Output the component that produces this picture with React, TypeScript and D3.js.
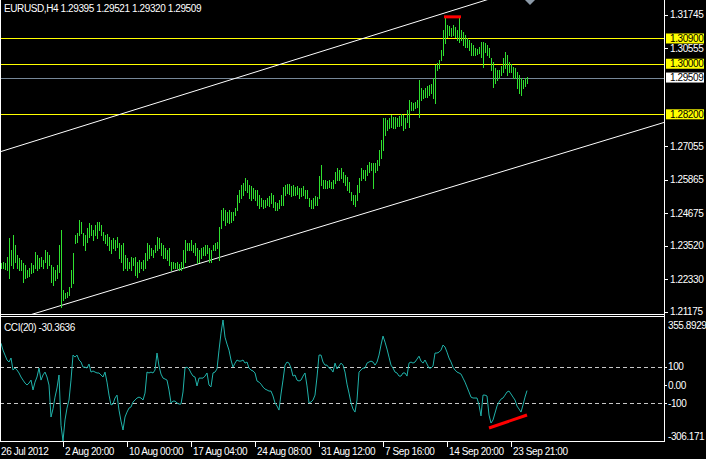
import React from "react";
import * as d3 from "d3";

const W = 706;
const H = 459;

const highs = [
  1.2290,1.2294,1.2290,1.2312,1.2380,1.2337,1.2390,1.2355,1.2319,1.2308,
  1.2301,1.2290,1.2284,1.2266,1.2273,1.2290,1.2284,1.2330,1.2319,1.2308,
  1.2312,1.2301,1.2337,1.2330,1.2319,1.2284,1.2277,1.2266,1.2284,1.2355,
  1.2408,1.2195,1.2184,1.2188,1.2205,1.2266,1.2326,1.2390,1.2397,1.2444,
  1.2437,1.2397,1.2390,1.2415,1.2433,1.2426,1.2408,1.2426,1.2437,1.2437,
  1.2426,1.2401,1.2390,1.2394,1.2383,1.2373,1.2380,1.2373,1.2383,1.2362,
  1.2355,1.2362,1.2319,1.2308,1.2294,1.2312,1.2308,1.2312,1.2294,1.2301,
  1.2294,1.2301,1.2326,1.2362,1.2355,1.2344,1.2337,1.2355,1.2383,1.2380,
  1.2362,1.2355,1.2344,1.2337,1.2344,1.2294,1.2294,1.2290,1.2294,1.2287,
  1.2294,1.2337,1.2373,1.2362,1.2362,1.2373,1.2355,1.2362,1.2344,1.2337,
  1.2344,1.2348,1.2355,1.2355,1.2344,1.2337,1.2355,1.2362,1.2366,1.2419,
  1.2479,1.2487,1.2479,1.2472,1.2479,1.2472,1.2472,1.2487,1.2533,1.2551,
  1.2568,1.2575,1.2593,1.2586,1.2568,1.2565,1.2558,1.2551,1.2551,1.2533,
  1.2522,1.2515,1.2515,1.2522,1.2529,1.2540,1.2533,1.2508,1.2504,1.2515,
  1.2533,1.2561,1.2568,1.2572,1.2572,1.2565,1.2568,1.2561,1.2565,1.2558,
  1.2558,1.2565,1.2551,1.2551,1.2522,1.2515,1.2522,1.2529,1.2526,1.2600,
  1.2640,1.2586,1.2586,1.2583,1.2586,1.2579,1.2586,1.2615,1.2629,1.2622,
  1.2629,1.2615,1.2604,1.2597,1.2579,1.2544,1.2533,1.2533,1.2568,1.2593,
  1.2629,1.2622,1.2622,1.2640,1.2650,1.2647,1.2647,1.2647,1.2657,1.2693,
  1.2729,1.2807,1.2807,1.2800,1.2807,1.2818,1.2811,1.2811,1.2807,1.2814,
  1.2821,1.2818,1.2807,1.2835,1.2871,1.2864,1.2860,1.2864,1.2871,1.2942,
  1.2914,1.2907,1.2914,1.2921,1.2924,1.2928,1.2949,1.2996,1.3003,1.3013,
  1.3049,1.3120,1.3167,1.3138,1.3134,1.3127,1.3138,1.3131,1.3120,1.3167,
  1.3120,1.3113,1.3102,1.3092,1.3085,1.3074,1.3067,1.3056,1.3053,1.3060,
  1.3078,1.3078,1.3074,1.3067,1.3056,1.3020,1.3006,1.2985,1.2978,1.2978,
  1.2992,1.3020,1.3042,1.3031,1.3006,1.2999,1.2988,1.2985,1.2971,1.2960,
  1.2949,1.2942,1.2949,1.29521,
];

const lows = [
  1.2273,1.2273,1.2269,1.2266,1.2238,1.2284,1.2273,1.2294,1.2273,1.2266,
  1.2266,1.2223,1.2238,1.2241,1.2245,1.2255,1.2259,1.2273,1.2266,1.2273,
  1.2280,1.2273,1.2294,1.2273,1.2284,1.2223,1.2212,1.2230,1.2238,1.2259,
  1.2134,1.2159,1.2166,1.2170,1.2177,1.2205,1.2219,1.2362,1.2366,1.2390,
  1.2397,1.2355,1.2337,1.2366,1.2383,1.2390,1.2373,1.2390,1.2380,1.2408,
  1.2390,1.2373,1.2362,1.2355,1.2337,1.2326,1.2344,1.2337,1.2348,1.2308,
  1.2294,1.2266,1.2273,1.2266,1.2273,1.2266,1.2284,1.2248,1.2241,1.2259,
  1.2273,1.2266,1.2273,1.2301,1.2308,1.2319,1.2312,1.2330,1.2337,1.2344,
  1.2319,1.2308,1.2308,1.2301,1.2284,1.2266,1.2273,1.2273,1.2273,1.2266,
  1.2266,1.2273,1.2294,1.2337,1.2337,1.2337,1.2330,1.2319,1.2290,1.2294,
  1.2308,1.2319,1.2319,1.2326,1.2294,1.2294,1.2337,1.2337,1.2344,1.2301,
  1.2415,1.2444,1.2426,1.2437,1.2433,1.2437,1.2444,1.2462,1.2479,1.2508,
  1.2522,1.2533,1.2551,1.2544,1.2522,1.2515,1.2522,1.2515,1.2497,1.2487,
  1.2494,1.2487,1.2490,1.2497,1.2494,1.2504,1.2490,1.2479,1.2479,1.2487,
  1.2497,1.2497,1.2533,1.2540,1.2536,1.2529,1.2533,1.2533,1.2536,1.2522,
  1.2529,1.2533,1.2522,1.2522,1.2494,1.2487,1.2487,1.2497,1.2497,1.2522,
  1.2568,1.2558,1.2558,1.2558,1.2561,1.2558,1.2558,1.2575,1.2586,1.2586,
  1.2593,1.2579,1.2568,1.2551,1.2544,1.2515,1.2501,1.2494,1.2515,1.2544,
  1.2586,1.2593,1.2586,1.2604,1.2615,1.2622,1.2558,1.2615,1.2622,1.2640,
  1.2665,1.2693,1.2746,1.2764,1.2771,1.2775,1.2771,1.2771,1.2778,1.2778,
  1.2782,1.2764,1.2771,1.2793,1.2775,1.2835,1.2835,1.2843,1.2846,1.2811,
  1.2871,1.2878,1.2882,1.2882,1.2889,1.2896,1.2878,1.2860,1.2978,1.2985,
  1.3013,1.3031,1.3074,1.3095,1.3102,1.3099,1.3102,1.3095,1.3085,1.3078,
  1.3085,1.3067,1.3060,1.3060,1.3049,1.3031,1.3031,1.3031,1.3035,1.3038,
  1.3024,1.2988,1.3042,1.3031,1.3024,1.2978,1.2917,1.2931,1.2942,1.2949,
  1.2960,1.2971,1.2985,1.2960,1.2971,1.2971,1.2949,1.2949,1.2914,1.2896,
  1.2889,1.2914,1.2921,1.29320,
];

const cci = [
  229,191,164,137,126,148,82,93,82,66,
  44,27,11,0,11,27,-27,16,44,93,
  27,55,71,44,0,-175,-130,-66,-16,55,
  -220,-306.171,-191,-126,-82,27,164,153,164,137,
  126,98,98,93,115,71,77,71,66,66,
  55,44,71,16,-55,-109,-104,-71,-55,-137,
  -197,-246,-175,-148,-126,-120,-93,-82,-71,-66,
  -71,-82,-44,71,66,71,66,82,175,104,
  60,38,33,27,-27,-98,-88,-88,-98,-104,
  -104,-38,93,98,88,66,49,44,-5,38,
  38,38,49,66,0,-10,66,71,88,191,
  284,355.8929,262,224,191,137,98,120,137,131,
  131,137,120,126,93,82,77,66,22,16,
  5,-11,-22,-27,-33,-33,-60,-98,-115,-137,
  -49,27,109,126,120,93,49,55,27,22,
  27,49,66,-5,-98,-93,-82,-55,44,164,
  164,126,109,109,93,88,71,120,88,104,
  120,109,71,5,-44,-98,-131,-148,-82,71,
  82,93,93,120,126,131,126,109,126,164,
  219,268,235,197,153,109,93,71,66,49,
  49,66,66,49,120,126,120,126,142,158,
  131,120,137,115,93,93,104,175,175,180,
  191,219,208,180,148,126,98,82,71,66,
  60,38,16,-11,-38,-66,-71,-71,-71,-109,
  -169,-55,-55,-60,-164,-208,-191,-153,-115,-93,
  -77,-71,-55,-38,-33,-49,-66,-82,-115,-131,
  -148,-109,-66,-30.3636,
];

const priceTicks = [1.31745, 1.30555, 1.27055, 1.25865, 1.24675, 1.2352, 1.2233, 1.21175];
const yellowLevels = [1.309, 1.3, 1.282];
const bidPrice = 1.29509;
const cciLevels = [100, -100];
const cciTicks = [100, 0, -100];
const cciMin = -306.171;
const cciMax = 355.8929;
const timeLabels = ["26 Jul 2012", "2 Aug 20:00", "10 Aug 00:00", "17 Aug 04:00", "24 Aug 08:00", "31 Aug 12:00", "7 Sep 16:00", "14 Sep 20:00", "23 Sep 21:00"];
const timeIdx = [0, 32, 64, 96, 128, 160, 192, 224, 256];
const upperChannel = [{ i: -0.5, p: 1.26864 }, { i: 243, p: 1.32279 }];
const lowerChannel = [{ i: 16, p: 1.2109 }, { i: 331.5, p: 1.2791 }];
const priceRedLine = [{ i: 221.5, p: 1.3167 }, { i: 230, p: 1.3167 }];
const cciRedLine = [{ i: 244, v: -235 }, { i: 263, v: -164 }];
const header = "EURUSD,H4  1.29395 1.29521 1.29320 1.29509";
const cciTitle = "CCI(20) -30.3636";

const FONT = "'Liberation Sans', Arial, sans-serif";

export default function App() {
  const n = highs.length;
  const axisX = 664;
  const mainBottom = 314;
  const cciTop = 317;
  const cciBottom = 441;

  const x = d3.scaleLinear().domain([0, n - 1]).range([1, 1 + 2 * (n - 1)]);
  const y = d3.scaleLinear().domain([1.2109, 1.3227]).range([mainBottom, 0]);
  const yc = d3.scaleLinear().domain([cciMin, cciMax]).range([cciBottom, 320]);

  const extend = (pts: { i: number; p: number }[]) => {
    const [a, b] = pts;
    const slope = (b.p - a.p) / (b.i - a.i);
    const i0 = x.invert(-5);
    const i1 = x.invert(axisX + 5);
    return [
      [x(i0), y(a.p + slope * (i0 - a.i))],
      [x(i1), y(a.p + slope * (i1 - a.i))],
    ];
  };
  const up = extend(upperChannel);
  const lo = extend(lowerChannel);

  const cciPath = d3
    .line<number>()
    .x((_, i) => x(i))
    .y((d) => yc(d))(cci) as string;

  const txt = {
    fontFamily: FONT,
    fontSize: 10,
    letterSpacing: -0.4,
  } as React.CSSProperties;

  const highlight = (p: number, bg: string) => (
    <g key={"hl" + p}>
      <rect x={666} y={y(p) - 5} width={38} height={10} fill={bg} />
      <text x={670} y={y(p)} dy="0.35em" fill="#000" style={txt}>
        {p.toFixed(5)}
      </text>
    </g>
  );

  const lastX = x(n - 1);

  return (
    <div style={{ position: "absolute", left: 0, top: 0 }}>
      <svg width={W} height={H} style={{ display: "block", background: "#000" }}>
        <defs>
          <clipPath id="mainClip">
            <rect x={0} y={0} width={axisX} height={mainBottom} />
          </clipPath>
          <clipPath id="cciClip">
            <rect x={0} y={cciTop} width={axisX} height={cciBottom - cciTop} />
          </clipPath>
        </defs>
        <rect x={0} y={0} width={W} height={H} fill="#000" />

        {/* main panel */}
        <g clipPath="url(#mainClip)">
          {yellowLevels.map((p) => (
            <line key={p} x1={0} x2={axisX} y1={Math.round(y(p)) + 0.5} y2={Math.round(y(p)) + 0.5} stroke="#ffff00" strokeWidth={1} />
          ))}
          <line x1={0} x2={axisX} y1={Math.round(y(bidPrice)) + 0.5} y2={Math.round(y(bidPrice)) + 0.5} stroke="#778899" strokeWidth={1} />
          <line x1={up[0][0]} y1={up[0][1]} x2={up[1][0]} y2={up[1][1]} stroke="#fff" strokeWidth={1} />
          <line x1={lo[0][0]} y1={lo[0][1]} x2={lo[1][0]} y2={lo[1][1]} stroke="#fff" strokeWidth={1} />
          {highs.map((h, i) => (
            <line
              key={i}
              x1={x(i) + 0.5}
              x2={x(i) + 0.5}
              y1={Math.round(y(h))}
              y2={Math.round(y(lows[i])) + 1}
              stroke="#2fe02f"
              strokeWidth={1}
              shapeRendering="crispEdges"
            />
          ))}
          <line
            x1={x(priceRedLine[0].i)}
            x2={x(priceRedLine[1].i)}
            y1={y(priceRedLine[0].p)}
            y2={y(priceRedLine[1].p)}
            stroke="#ff0000"
            strokeWidth={3}
          />
          <path d={`M${lastX - 2},0 L${lastX + 8},0 L${lastX + 3},5 Z`} fill="#8c9aa8" />
        </g>
        <text x={4} y={8} dy="0.35em" fill="#fff" style={txt}>
          {header}
        </text>

        {/* cci panel */}
        <g clipPath="url(#cciClip)">
          {cciLevels.map((v) => (
            <line key={v} x1={0} x2={axisX} y1={Math.round(yc(v)) + 0.5} y2={Math.round(yc(v)) + 0.5} stroke="#c8c8c8" strokeDasharray="4,3" strokeWidth={1} />
          ))}
          <path d={cciPath} fill="none" stroke="#20b2aa" strokeWidth={1} />
          <line
            x1={x(cciRedLine[0].i)}
            y1={yc(cciRedLine[0].v)}
            x2={x(cciRedLine[1].i)}
            y2={yc(cciRedLine[1].v)}
            stroke="#ff0000"
            strokeWidth={3}
          />
        </g>
        <text x={4} y={327} dy="0.35em" fill="#fff" style={txt}>
          {cciTitle}
        </text>

        {/* frame */}
        <g stroke="#fff" strokeWidth={1} shapeRendering="crispEdges">
          <line x1={0.5} x2={0.5} y1={0} y2={cciBottom + 1} />
          <line x1={axisX + 0.5} x2={axisX + 0.5} y1={0} y2={cciBottom + 1} />
          <line x1={0} x2={axisX + 1} y1={mainBottom + 0.5} y2={mainBottom + 0.5} />
          <line x1={0} x2={axisX + 1} y1={cciTop - 0.5} y2={cciTop - 0.5} />
          <line x1={0} x2={axisX + 1} y1={cciBottom + 0.5} y2={cciBottom + 0.5} />
        </g>

        {/* price axis */}
        {priceTicks.map((p) => (
          <g key={p}>
            <line x1={axisX + 1} x2={axisX + 4} y1={Math.round(y(p)) + 0.5} y2={Math.round(y(p)) + 0.5} stroke="#fff" />
            <text x={670} y={y(p)} dy="0.35em" fill="#fff" style={txt}>
              {p.toFixed(5)}
            </text>
          </g>
        ))}
        {yellowLevels.map((p) => highlight(p, "#ffff00"))}
        {highlight(bidPrice, "#ffffff")}

        {/* cci axis */}
        {cciTicks.map((v) => (
          <g key={v}>
            <line x1={axisX + 1} x2={axisX + 3} y1={Math.round(yc(v)) + 0.5} y2={Math.round(yc(v)) + 0.5} stroke="#fff" />
            <text x={668} y={yc(v)} dy="0.35em" fill="#fff" style={txt}>
              {v === 0 ? "0.00" : String(v)}
            </text>
          </g>
        ))}
        <text x={668} y={yc(cciMax) + 5} dy="0.35em" fill="#fff" style={txt}>
          {cciMax.toFixed(4)}
        </text>
        <text x={668} y={yc(cciMin) - 5} dy="0.35em" fill="#fff" style={txt}>
          {cciMin.toFixed(3)}
        </text>

        {/* time axis */}
        {timeIdx.map((ti, k) => (
          <g key={ti}>
            <line x1={x(ti) - 1.5} x2={x(ti) - 1.5} y1={cciBottom + 1} y2={cciBottom + 6} stroke="#fff" />
            <text x={x(ti)} y={451} dy="0.35em" fill="#fff" style={txt}>
              {timeLabels[k]}
            </text>
          </g>
        ))}
      </svg>
    </div>
  );
}
